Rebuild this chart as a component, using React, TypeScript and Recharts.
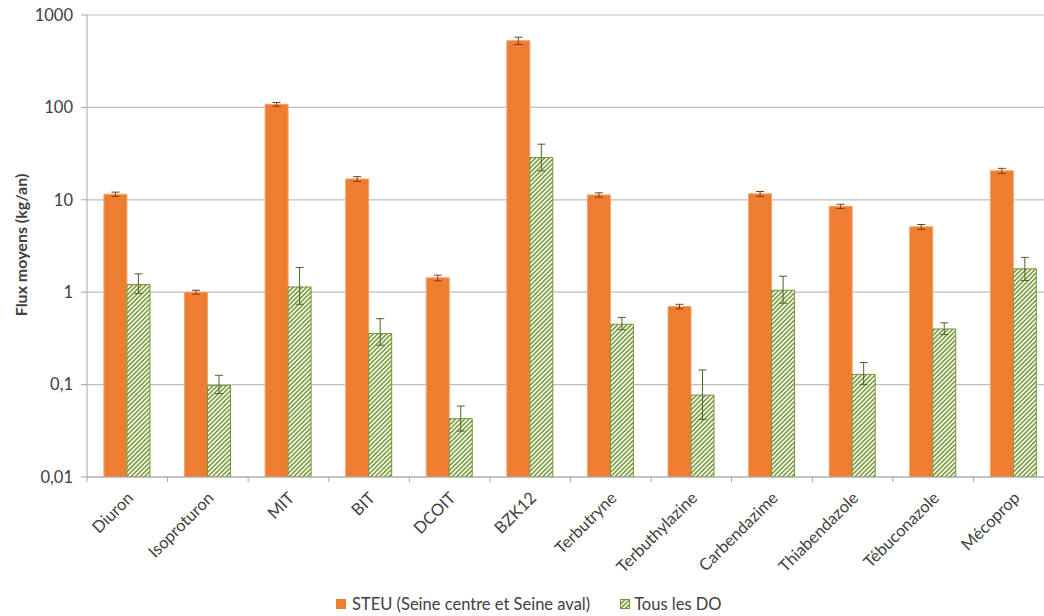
import { Bar, BarChart, CartesianGrid, ErrorBar, Legend, XAxis, YAxis } from "recharts"

const categories = [
  "Diuron",
  "Isoproturon",
  "MIT",
  "BIT",
  "DCOIT",
  "BZK12",
  "Terbutryne",
  "Terbuthylazine",
  "Carbendazime",
  "Thiabendazole",
  "Tébuconazole",
  "Mécoprop",
]

// STEU (Seine centre et Seine aval), kg/an
const steuValues = [11.5, 1.0, 108, 16.8, 1.43, 527, 11.3, 0.7, 11.6, 8.5, 5.1, 20.6]
const steuErrors = [0.6, 0.05, 5, 1.0, 0.1, 48, 0.6, 0.04, 0.7, 0.45, 0.3, 1.3]

// Tous les DO, kg/an, errors as [below, above]
const doValues = [1.21, 0.098, 1.14, 0.357, 0.0428, 28.7, 0.45, 0.077, 1.05, 0.129, 0.4, 1.79]
const doErrors = [
  [0.24, 0.37],
  [0.018, 0.028],
  [0.4, 0.71],
  [0.09, 0.16],
  [0.0114, 0.0158],
  [8.1, 11.3],
  [0.057, 0.084],
  [0.035, 0.067],
  [0.29, 0.44],
  [0.029, 0.044],
  [0.052, 0.066],
  [0.45, 0.59],
]

const yTicks = [0.01, 0.1, 1, 10, 100, 1000]

const data = categories.map((name, i) => ({
  name,
  steu: steuValues[i],
  steuErr: steuErrors[i],
  tousDO: doValues[i],
  doErr: doErrors[i],
}))

const FONT = "Lato, 'Open Sans', sans-serif"
const TEXT = "#404040"
const AXIS = "#A6A6A6"
const ORANGE = "#ED7D31"
const GREEN = "#77933C"
const STRIPE = "#7E9F42"

const PLOT_LEFT = 87
const PLOT_RIGHT = 1054
const BAND = (PLOT_RIGHT - PLOT_LEFT) / categories.length

function CategoryTick(props: any) {
  const { x, y, payload } = props
  const ax = x + 7
  const ay = y + 22
  return (
    <g>
      <line x1={x - BAND / 2} x2={x - BAND / 2} y1={y} y2={y + 5} stroke={AXIS} />
      <text
        x={ax}
        y={ay}
        transform={`rotate(-45 ${ax} ${ay})`}
        textAnchor="end"
        fontSize={16.5}
        fontFamily={FONT}
        fill={TEXT}
      >
        {payload.value}
      </text>
    </g>
  )
}

function YTitle() {
  return (
    <text
      x={20}
      y={245}
      transform="rotate(-90 20 245)"
      textAnchor="middle"
      dominantBaseline="central"
      fontSize={16}
      fontWeight="bold"
      fontFamily={FONT}
      fill={TEXT}
    >
      Flux moyens (kg/an)
    </text>
  )
}

function LegendBox() {
  return (
    <div style={{ display: "flex", alignItems: "center", height: 20, fontFamily: FONT, fontSize: 16.5, color: TEXT }}>
      <svg width={10} height={10} style={{ marginRight: 6 }}>
        <rect width={10} height={10} fill={ORANGE} />
      </svg>
      <span>STEU (Seine centre et Seine aval)</span>
      <svg width={10} height={10} style={{ marginLeft: 30, marginRight: 4 }}>
        <defs>
          <pattern id="legendHatch" patternUnits="userSpaceOnUse" width={3.2} height={3.2} patternTransform="rotate(45)">
            <rect width={3.2} height={3.2} fill="#fff" />
            <rect width={1.7} height={3.2} fill={STRIPE} />
          </pattern>
        </defs>
        <rect x={0.5} y={0.5} width={9} height={9} fill="url(#legendHatch)" stroke={GREEN} />
      </svg>
      <span>Tous les DO</span>
    </div>
  )
}

export default function App() {
  return (
    <div
      style={{
        position: "absolute",
        left: 0,
        top: 0,
        width: 1044,
        height: 616,
        overflow: "hidden",
        background: "#fff",
      }}
    >
      <BarChart
        width={1070}
        height={616}
        data={data}
        margin={{ top: 15, right: 1070 - PLOT_RIGHT, left: 0, bottom: 0 }}
        barCategoryGap="21%"
        barGap={0}
      >
        <defs>
          <pattern id="doHatch" patternUnits="userSpaceOnUse" width={3.2} height={3.2} patternTransform="rotate(45)">
            <rect width={3.2} height={3.2} fill="#fff" />
            <rect width={1.7} height={3.2} fill={STRIPE} />
          </pattern>
        </defs>
        <CartesianGrid vertical={false} stroke="#BFBFBF" strokeWidth={1.2} />
        <XAxis
          dataKey="name"
          interval={0}
          height={119}
          tickLine={false}
          tickSize={0}
          tickMargin={0}
          axisLine={{ stroke: AXIS }}
          tick={<CategoryTick />}
        />
        <YAxis
          scale="log"
          domain={[0.01, 1000]}
          allowDataOverflow
          ticks={yTicks}
          interval={0}
          width={PLOT_LEFT}
          tickSize={6}
          tickMargin={8}
          tickFormatter={(v) => String(v).replace(".", ",")}
          axisLine={{ stroke: AXIS }}
          tickLine={{ stroke: AXIS }}
          tick={{ fontSize: 16.5, fill: TEXT, fontFamily: FONT }}
          label={<YTitle />}
        />
        <Legend
          verticalAlign="bottom"
          wrapperStyle={{ position: "absolute", left: 336, top: 594, width: 460 }}
          content={() => <LegendBox />}
        />
        <Bar dataKey="steu" fill={ORANGE} stroke="#F3A46C" strokeWidth={1} isAnimationActive={false}>
          <ErrorBar dataKey="steuErr" direction="y" width={4} stroke="#843C0C" strokeWidth={1} isAnimationActive={false} />
        </Bar>
        <Bar dataKey="tousDO" fill="url(#doHatch)" stroke={GREEN} strokeWidth={1} isAnimationActive={false}>
          <ErrorBar dataKey="doErr" direction="y" width={4} stroke="#4F6228" strokeWidth={1} isAnimationActive={false} />
        </Bar>
      </BarChart>
    </div>
  )
}
